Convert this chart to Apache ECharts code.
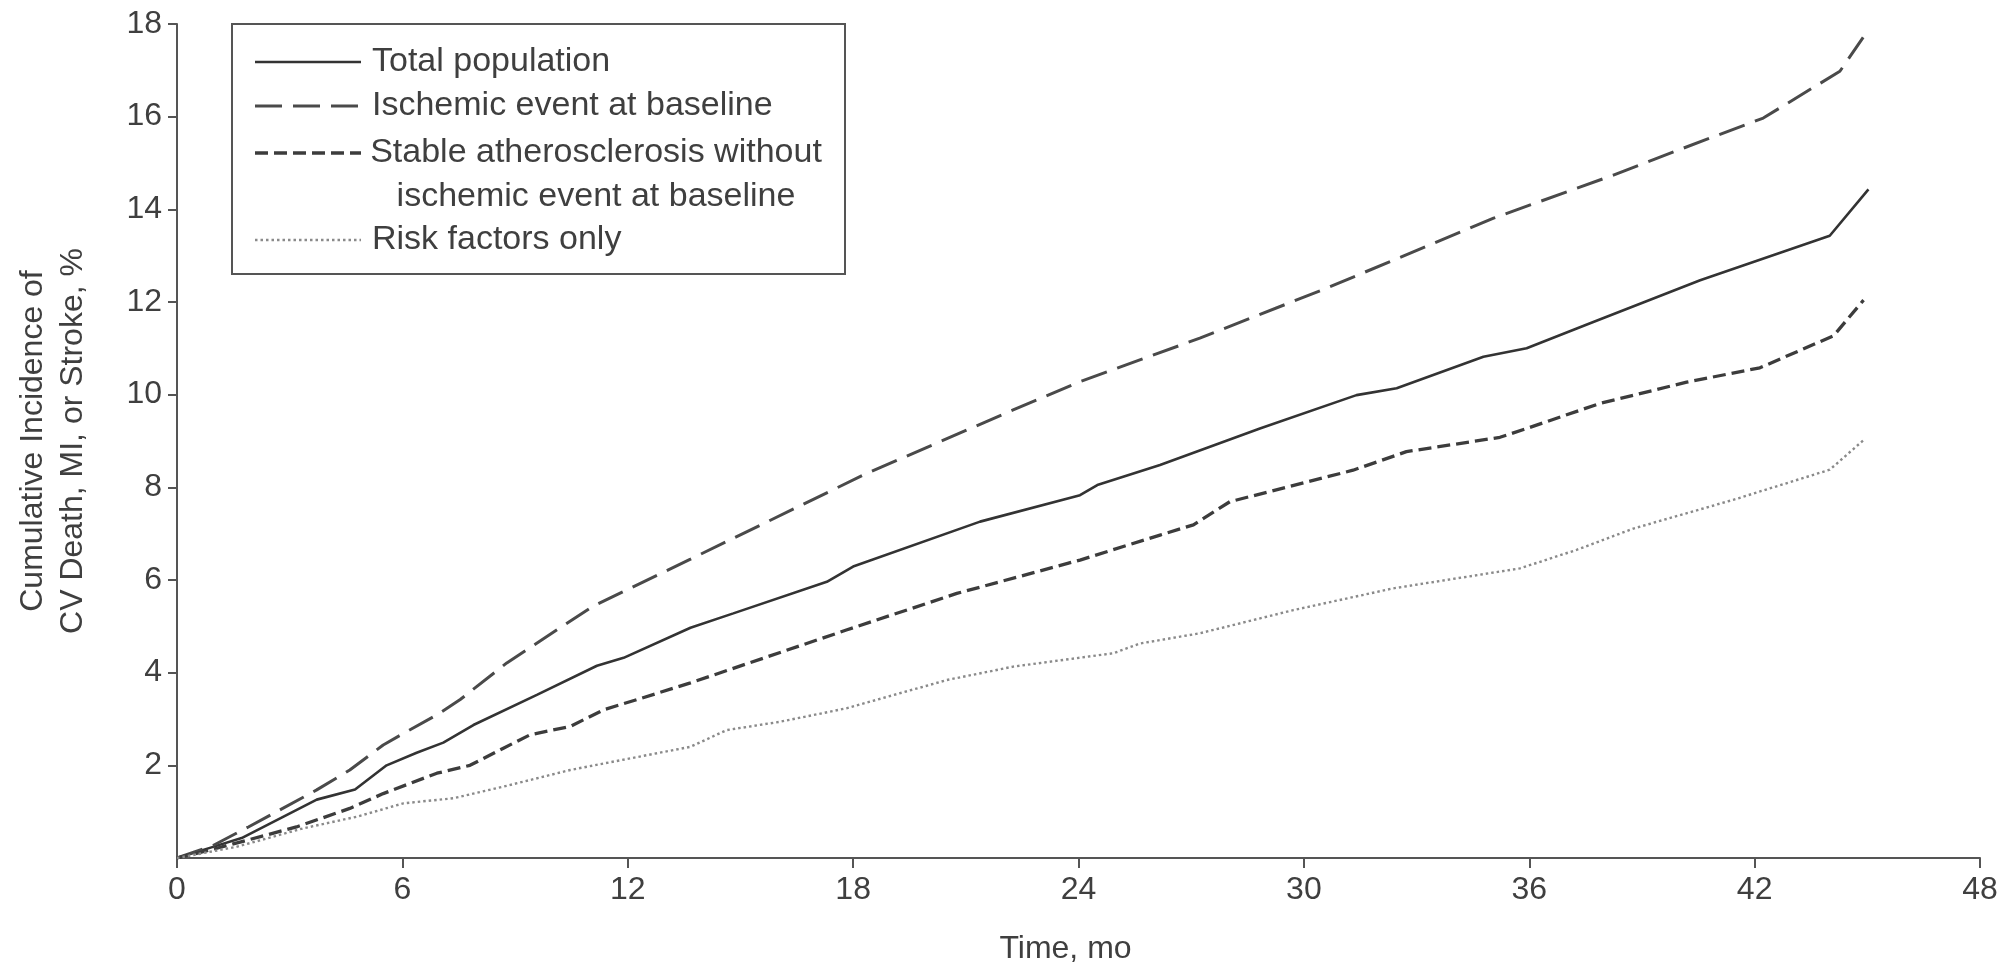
<!DOCTYPE html>
<html>
<head>
<meta charset="utf-8">
<script src="https://cdn.jsdelivr.net/npm/echarts@6/dist/echarts.min.js"></script>
<style>
  html, body { margin: 0; padding: 0; background: #fff; }
  #chart { width: 2016px; height: 964px; }
</style>
</head>
<body>
<div id="chart"></div>
<script>
// Cumulative incidence of CV death, MI, or stroke by baseline group, [month, %]
const totalPopulation = [
  [0, 0], [0.96, 0.24], [1.72, 0.43], [3.72, 1.26], [4.74, 1.48], [5.58, 2.0],
  [6.38, 2.27], [7.09, 2.49], [7.89, 2.87], [9.58, 3.52], [11.18, 4.15], [11.89, 4.32],
  [13.67, 4.97], [14.81, 5.28], [17.3, 5.96], [18.0, 6.29], [21.38, 7.26], [24.04, 7.83],
  [24.5, 8.05], [26.17, 8.48], [28.83, 9.27], [31.4, 9.99], [32.47, 10.14], [34.78, 10.82],
  [35.93, 11.0], [37.62, 11.54], [40.55, 12.47], [44.0, 13.43], [45.03, 14.43]
];
const ischemicAtBaseline = [
  [0, 0], [0.96, 0.27], [1.9, 0.67], [3.72, 1.47], [4.6, 1.9], [5.49, 2.44],
  [6.03, 2.69], [6.92, 3.09], [7.54, 3.42], [8.78, 4.21], [10.2, 4.97], [11.09, 5.44],
  [13.67, 6.45], [14.81, 6.9], [18.36, 8.3], [22.26, 9.67], [24.04, 10.28], [27.23, 11.22],
  [30.61, 12.3], [35.05, 13.81], [38.24, 14.74], [40.1, 15.32], [42.23, 15.97],
  [44.27, 16.98], [44.89, 17.71]
];
const stableAtherosclerosis = [
  [0, 0], [0.87, 0.17], [1.85, 0.38], [3.18, 0.67], [4.6, 1.07], [5.49, 1.39],
  [6.92, 1.83], [7.8, 2.0], [8.69, 2.37], [9.4, 2.66], [10.47, 2.84], [11.36, 3.2],
  [12.25, 3.42], [13.67, 3.78], [17.82, 4.92], [20.76, 5.71], [24.04, 6.43], [26.17, 6.97],
  [27.06, 7.19], [28.03, 7.69], [31.31, 8.37], [32.73, 8.77], [35.22, 9.08], [35.93, 9.27],
  [37.88, 9.81], [40.19, 10.27], [42.14, 10.58], [44.1, 11.27], [44.9, 12.04]
];
const riskFactorsOnly = [
  [0, 0], [1.58, 0.24], [3.36, 0.64], [4.78, 0.89], [6.03, 1.18], [7.36, 1.29],
  [8.69, 1.54], [10.47, 1.9], [11.36, 2.04], [13.67, 2.4], [14.63, 2.76], [16.05, 2.94],
  [17.82, 3.23], [20.49, 3.84], [22.26, 4.13], [24.93, 4.42], [25.64, 4.63], [27.23, 4.85],
  [29.72, 5.35], [32.38, 5.82], [35.75, 6.25], [37.26, 6.65], [38.77, 7.11], [41.43, 7.73],
  [44.0, 8.38], [44.93, 9.04]
];

const seriesNames = [
  'Total population',
  'Ischemic event at baseline',
  'Stable atherosclerosis without\nischemic event at baseline',
  'Risk factors only'
];
const xTitle = 'Time, mo';
const yTitle = 'Cumulative Incidence of\nCV Death, MI, or Stroke, %';

const FONT = '"Liberation Sans", Arial, sans-serif';
const TEXT = '#3f3f3f';
const AXIS = '#555';

// stroke styles: solid, long dash, short dash, dotted
const strokes = [
  { color: '#333', width: 2.6, dash: null },
  { color: '#4a4a4a', width: 3, dash: [27, 11] },
  { color: '#3c3c3c', width: 3.3, dash: [13, 6] },
  { color: '#8a8a8a', width: 2.4, dash: [2.5, 3] }
];
const seriesData = [totalPopulation, ischemicAtBaseline, stableAtherosclerosis, riskFactorsOnly];

const chart = echarts.init(document.getElementById('chart'), null, { renderer: 'canvas' });

// legend box drawn as graphics
const legendRows = [62, 106, 153, 240];
const legendGraphics = [{
  type: 'rect',
  shape: { x: 232, y: 24, width: 613, height: 250 },
  style: { fill: '#fff', stroke: AXIS, lineWidth: 2 },
  z: 10
}];
seriesNames.forEach((name, i) => {
  const s = strokes[i];
  legendGraphics.push({
    type: 'line',
    shape: { x1: 255, y1: legendRows[i], x2: 361, y2: legendRows[i] },
    style: { stroke: s.color, lineWidth: s.width, lineDash: s.dash || null },
    z: 11
  });
  const multi = name.indexOf('\n') >= 0;
  legendGraphics.push({
    type: 'text',
    x: multi ? 596 : 372,
    y: multi ? legendRows[i] + 22 : legendRows[i],
    style: {
      text: name,
      font: '34px ' + FONT,
      fill: TEXT,
      align: multi ? 'center' : 'left',
      verticalAlign: 'middle',
      lineHeight: 44
    },
    z: 11
  });
});

chart.setOption({
  animation: false,
  backgroundColor: '#fff',
  grid: { left: 177, right: 36, top: 24, bottom: 106, containLabel: false, outerBoundsMode: 'none' },
  xAxis: {
    type: 'value', min: 0, max: 48, interval: 6,
    axisLine: { show: true, lineStyle: { color: AXIS, width: 2 } },
    axisTick: { show: true, length: 10, lineStyle: { color: AXIS, width: 2 } },
    axisLabel: { fontSize: 32, color: TEXT, fontFamily: FONT, margin: 16 },
    splitLine: { show: false },
    name: xTitle, nameLocation: 'middle', nameGap: 75,
    nameTextStyle: { fontSize: 32, color: TEXT, fontFamily: FONT, padding: [0, 26, 0, 0] }
  },
  yAxis: {
    type: 'value', min: 0, max: 18, interval: 2,
    axisLine: { show: true, lineStyle: { color: AXIS, width: 2 } },
    axisTick: { show: true, length: 9, lineStyle: { color: AXIS, width: 2 } },
    axisLabel: { fontSize: 32, color: TEXT, fontFamily: FONT, margin: 15, showMinLabel: false },
    splitLine: { show: false },
    name: yTitle, nameLocation: 'middle', nameRotate: 90, nameGap: 84,
    nameTextStyle: { fontSize: 32, color: TEXT, fontFamily: FONT, lineHeight: 40 }
  },
  series: seriesData.map((data, i) => ({
    type: 'line',
    name: seriesNames[i],
    data: data,
    showSymbol: false,
    symbol: 'none',
    smooth: false,
    lineStyle: { color: strokes[i].color, width: strokes[i].width, type: strokes[i].dash || 'solid' },
    z: 2
  })),
  graphic: legendGraphics
});
</script>
</body>
</html>
